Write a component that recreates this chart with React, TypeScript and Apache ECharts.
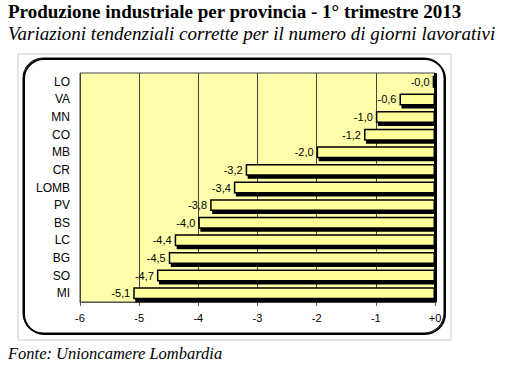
import React, { useEffect, useRef } from "react";
import * as echarts from "echarts";

const categories = ["LO", "VA", "MN", "CO", "MB", "CR", "LOMB", "PV", "BS", "LC", "BG", "SO", "MI"];
const values = [-0.04, -0.6, -1.0, -1.2, -2.0, -3.2, -3.4, -3.8, -4.0, -4.4, -4.5, -4.7, -5.1];
const xTicks = [-6, -5, -4, -3, -2, -1, 0];

const title = "Produzione industriale per provincia - 1° trimestre 2013";
const subtitle = "Variazioni tendenziali corrette per il numero di giorni lavorativi";
const source = "Fonte: Unioncamere Lombardia";

export default function App() {
  const ref = useRef<HTMLDivElement>(null);
  useEffect(() => {
    const chart = echarts.init(ref.current!, null, { renderer: "svg" });
    const lab = { fontFamily: "Liberation Sans, Arial, sans-serif", fontSize: 11, color: "#000" };
    chart.setOption({
      animation: false,
      backgroundColor: "#fff",
      grid: {
        left: 80,
        right: 75,
        top: 73,
        bottom: 69,
        show: true,
        backgroundColor: "#FFFFAA",
        borderColor: "#444",
        borderWidth: 1,
      },
      xAxis: {
        type: "value",
        min: xTicks[0],
        max: xTicks[xTicks.length - 1],
        interval: 1,
        axisLine: { show: true, onZero: false, lineStyle: { color: "#555", width: 1 } },
        axisTick: { show: true, length: 4, lineStyle: { color: "#555" } },
        splitLine: { show: true, lineStyle: { color: "#444", width: 1 } },
        axisLabel: {
          ...lab,
          margin: 10,
          formatter: (v: number) => (v === 0 ? "+0" : String(v)),
        },
      },
      yAxis: {
        type: "category",
        data: categories,
        inverse: true,
        axisLine: { show: false },
        axisTick: { show: false },
        axisLabel: { ...lab, fontSize: 12, margin: 10 },
      },
      series: [
        {
          type: "bar",
          data: values,
          barCategoryGap: "32%",
          itemStyle: {
            color: "#FFFF9C",
            borderColor: "#000",
            borderWidth: 1.5,
            shadowColor: "#000",
            shadowBlur: 0,
            shadowOffsetX: 2,
            shadowOffsetY: 3,
          },
          label: {
            show: true,
            position: "left",
            distance: 3,
            ...lab,
            formatter: (p: any) => p.value.toFixed(1).replace(".", ","),
          },
          markLine: {
            silent: true,
            symbol: "none",
            label: { show: false },
            lineStyle: { color: "#000", width: 3, type: "solid" },
            data: [{ xAxis: 0 }],
          },
        },
      ],
      graphic: [
        {
          type: "text",
          left: 8,
          top: 2,
          style: { text: title, font: "bold 19px 'Liberation Serif', 'Times New Roman', serif", fill: "#000" },
        },
        {
          type: "text",
          left: 8,
          top: 24,
          style: { text: subtitle, font: "italic 19px 'Liberation Serif', 'Times New Roman', serif", fill: "#000" },
        },
        {
          type: "rect",
          shape: { x: 18, y: 54, width: 433, height: 286 },
          style: { fill: "none", stroke: "#ccc", lineWidth: 1 },
          z: -1,
        },
        {
          type: "rect",
          shape: { x: 24, y: 59, width: 421, height: 275, r: 20 },
          style: { fill: "none", stroke: "#000", lineWidth: 2 },
        },
        {
          type: "rect",
          shape: { x: 23, y: 58, width: 421, height: 275, r: 20 },
          style: { fill: "none", stroke: "#000", lineWidth: 1 },
        },
        {
          type: "text",
          left: 8,
          top: 345,
          style: { text: source, font: "italic 16.5px 'Liberation Serif', 'Times New Roman', serif", fill: "#000" },
        },
      ],
    });
    return () => chart.dispose();
  }, []);
  return <div ref={ref} style={{ position: "absolute", left: 0, top: 0, width: 510, height: 371 }} />;
}
